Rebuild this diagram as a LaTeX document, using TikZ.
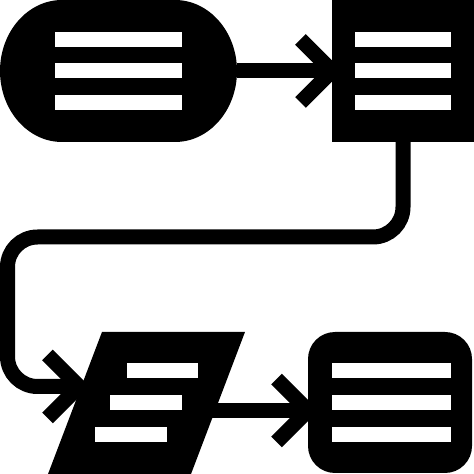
\documentclass[tikz,border=0pt]{standalone}
\usepackage{tikz}
\usetikzlibrary{calc}

\begin{document}
\begin{tikzpicture}[x=1pt, y=1pt,
  blk/.style={fill=black, draw=none, inner sep=0pt, outer sep=0pt},
  flow/.style={line width=15pt, line cap=butt},
  chev/.style={line width=15pt, line cap=butt, line join=miter},
  bar/.style={fill=white}]
  \useasboundingbox (0,0) rectangle (474,474);

  % Shapes
  \node[inner sep=0pt, outer sep=0pt, minimum width=237pt, minimum height=142pt] (start) at (118.5,403) {};
  \fill ($(start.north west)+(62,0)$) -- ($(start.north east)+(-62,0)$)
    arc[start angle=90, end angle=-90, x radius=62, y radius=71]
    -- ($(start.south west)+(62,0)$)
    arc[start angle=270, end angle=90, x radius=62, y radius=71] -- cycle;
  \node[blk, minimum size=142pt] (proc) at (403,403) {};
  \begin{scope}[shift={(146.5,71)}, xslant=0.38]
    \node[blk, transform shape, minimum width=143pt, minimum height=142pt] (io) at (0,0) {};
  \end{scope}
  \node[blk, rounded corners=27pt, minimum width=164pt, minimum height=141pt] (done) at (390,71.5) {};

  % Connection points
  \coordinate (inIO) at (79,87.5);
  \coordinate (inDone) at (308,63.5);

  % Connectors
  \draw[flow] (start.east) -- (proc.west);
  \draw[flow, rounded corners=30pt] (proc.south) -- (proc.south |- 0,237) -- (7.5,237) -- (7.5,87.5) -- (inIO);
  \draw[flow] (io.center |- inDone) -- (inDone);

  % Arrow heads
  \draw[chev] ($(proc.west)+(-31.5,31.5)$) -- (proc.west) -- ($(proc.west)+(-31.5,-31.5)$);
  \draw[chev] ($(inIO)+(-31.5,31.5)$) -- (inIO) -- ($(inIO)+(-31.5,-31.5)$);
  \draw[chev] ($(inDone)+(-31.5,31.5)$) -- (inDone) -- ($(inDone)+(-31.5,-31.5)$);

  % Text lines
  \foreach \y in {434.5,403,371.5} {
    \fill[bar] (55,\y-7.5) rectangle (182,\y+7.5);
    \fill[bar] (355,\y-7.5) rectangle (451,\y+7.5);
  }
  \foreach \y in {103,71,39.5}
    \fill[bar] (332,\y-7.5) rectangle (451,\y+7.5);
  \foreach \a/\b/\y in {127/198/103, 110/182/71, 95/167/39.5}
    \fill[bar] (\a,\y-7.5) rectangle (\b,\y+7.5);
\end{tikzpicture}
\end{document}
